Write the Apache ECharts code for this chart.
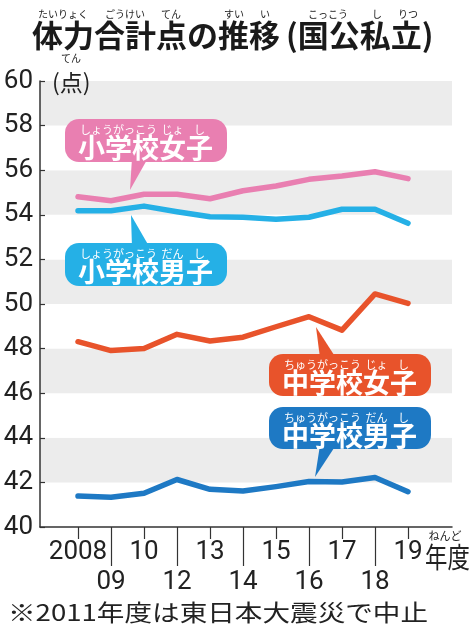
<!DOCTYPE html>
<html><head><meta charset="utf-8">
<script src="https://cdn.jsdelivr.net/npm/echarts@6/dist/echarts.min.js"></script>
<style>html,body{margin:0;padding:0;background:#fff}#c{width:474px;height:628px}</style>
</head><body><div id="c"></div>
<script>
// ---- data ----
const years = ['2008','09','10','12','13','14','15','16','17','18','19'];
const elemGirls   = [54.81,54.63,54.92,54.92,54.72,55.08,55.29,55.59,55.74,55.93,55.62];
const elemBoys    = [54.18,54.18,54.39,54.14,53.91,53.89,53.80,53.89,54.25,54.25,53.62];
const juniorGirls = [48.31,47.91,48.00,48.64,48.34,48.51,48.98,49.43,48.83,50.45,50.03];
const juniorBoys  = [41.39,41.33,41.51,42.13,41.69,41.61,41.81,42.04,42.02,42.22,41.58];
const yMin = 40, yMax = 60, yStep = 2;
const seriesNames = ['小学校女子','小学校男子','中学校女子','中学校男子'];

// ---- style ----
const NUM = "'Roboto','Liberation Sans',sans-serif";
const JP = "'Noto Sans CJK JP',sans-serif";
const C = {pink:'#e97fb1', sky:'#25b0e6', orange:'#e8532b', blue:'#1e79c4'};
const INK = '#222';

function txt(x, y, text, size, opts) {
  opts = opts || {};
  return {
    type:'text', x:x, y:y, z:100,
    scaleX: opts.scaleX || 1, scaleY: opts.scaleY || 1,
    style:{
      text:text, x:0, y:0,
      align: opts.align || 'left', verticalAlign:'middle',
      textAlign: opts.align || 'left', textVerticalAlign:'middle',
      fontSize:size, fontFamily: opts.family || JP, fontWeight: opts.weight || 'normal',
      fill: opts.fill || INK
    }
  };
}

function callout(bx, by, w, h, color, tail, label, rubies) {
  const els = [];
  els.push({type:'polygon', z:99, shape:{points:tail}, style:{fill:color}});
  els.push({type:'rect', z:99, shape:{x:bx, y:by, width:w, height:h, r:14}, style:{fill:color}});
  const left = bx + 13, pitch = 27;
  els.push(txt(left, by + 29, label, 27, {weight:'bold', fill:'#fff'}));
  rubies.forEach(r => {
    els.push(txt(left + pitch * (r[1] + r[2] / 2), by + 11, r[0], 11, {align:'center', fill:'#fff'}));
  });
  return els;
}

const graphics = [];
// title
graphics.push(txt(32, 35, '体力合計点の推移', 31, {weight:'bold', fill:'#1a1a1a'}));
graphics.push(txt(286, 35, '(国公私立)', 31, {weight:'bold', fill:'#1a1a1a'}));
[['たいりょく',63],['ごうけい',125],['てん',171],['すい',234],['い',265],['こっこう',328],['し',377],['りつ',408]]
  .forEach(r => graphics.push(txt(r[1], 14, r[0], 10, {align:'center'})));
// unit
graphics.push(txt(52, 82, '(点)', 23));
graphics.push(txt(71, 58, 'てん', 10, {align:'center'}));
// x unit
graphics.push(txt(425, 557, '年度', 28, {scaleX:0.8}));
graphics.push(txt(445, 536, 'ねんど', 11, {align:'center'}));
// footnote
graphics.push(txt(8, 612, '※2011年度は東日本大震災で中止', 23, {scaleX:1.2}));
// callouts
graphics.push(...callout(65, 119, 162, 43, C.pink, [[132,158],[148,158],[130,190]], seriesNames[0],
  [['しょうがっこう',0,3],['じょ',3,1],['し',4,1]]));
graphics.push(...callout(65, 243, 162, 43, C.sky, [[132,248],[150,248],[131,215]], seriesNames[1],
  [['しょうがっこう',0,3],['だん',3,1],['し',4,1]]));
graphics.push(...callout(269, 354, 162, 42, C.orange, [[320,358],[336,358],[316,327]], seriesNames[2],
  [['ちゅうがっこう',0,3],['じょ',3,1],['し',4,1]]));
graphics.push(...callout(269, 407, 162, 42, C.blue, [[320,445],[336,445],[315,477]], seriesNames[3],
  [['ちゅうがっこう',0,3],['だん',3,1],['し',4,1]]));

const tickLine = {color:'#333', width:1.2};
function line(name, data, color) {
  return {type:'line', name:name, data:data, xAxisIndex:0, yAxisIndex:0, symbol:'none',
    lineStyle:{color:color, width:5.5, cap:'round', join:'round'}, z:5};
}

const option = {
  animation:false,
  backgroundColor:'#fff',
  grid:[
    {left:78, right:66, top:81, bottom:101},
    {left:40, right:22, top:81, bottom:101}
  ],
  xAxis:[
    {type:'category', gridIndex:0, data:years, boundaryGap:false, position:'bottom',
     axisLine:{show:false},
     axisTick:{show:true, length:12, interval:(i)=>i%2===0, lineStyle:tickLine},
     axisLabel:{interval:(i)=>i%2===0, margin:12, fontSize:26, fontFamily:NUM, color:INK},
     splitLine:{show:false}},
    {type:'category', gridIndex:0, data:years, boundaryGap:false, position:'bottom', offset:0,
     axisLine:{show:false},
     axisTick:{show:true, length:39, interval:(i)=>i%2===1, lineStyle:tickLine},
     axisLabel:{interval:(i)=>i%2===1, margin:42, fontSize:26, fontFamily:NUM, color:INK},
     splitLine:{show:false}},
    {type:'value', gridIndex:1, min:0, max:1, position:'bottom',
     axisLine:{show:true, lineStyle:{color:'#333', width:1.5}},
     axisTick:{show:false}, axisLabel:{show:false}, splitLine:{show:false}}
  ],
  yAxis:[
    {type:'value', gridIndex:0, min:yMin, max:yMax, interval:yStep, show:false, splitLine:{show:false}},
    {type:'value', gridIndex:1, min:yMin, max:yMax, interval:yStep,
     axisLine:{show:true, lineStyle:{color:'#333', width:1.5}},
     axisTick:{show:true, inside:true, length:5, lineStyle:tickLine},
     axisLabel:{margin:7, fontSize:26, fontFamily:NUM, color:INK},
     splitLine:{show:false},
     splitArea:{show:true, areaStyle:{color:['#ffffff','#ececec']}}}
  ],
  series:[
    line(seriesNames[0], elemGirls, C.pink),
    line(seriesNames[1], elemBoys, C.sky),
    line(seriesNames[2], juniorGirls, C.orange),
    line(seriesNames[3], juniorBoys, C.blue)
  ],
  graphic: graphics
};
const chart = echarts.init(document.getElementById('c'));
chart.setOption(option);
</script></body></html>
